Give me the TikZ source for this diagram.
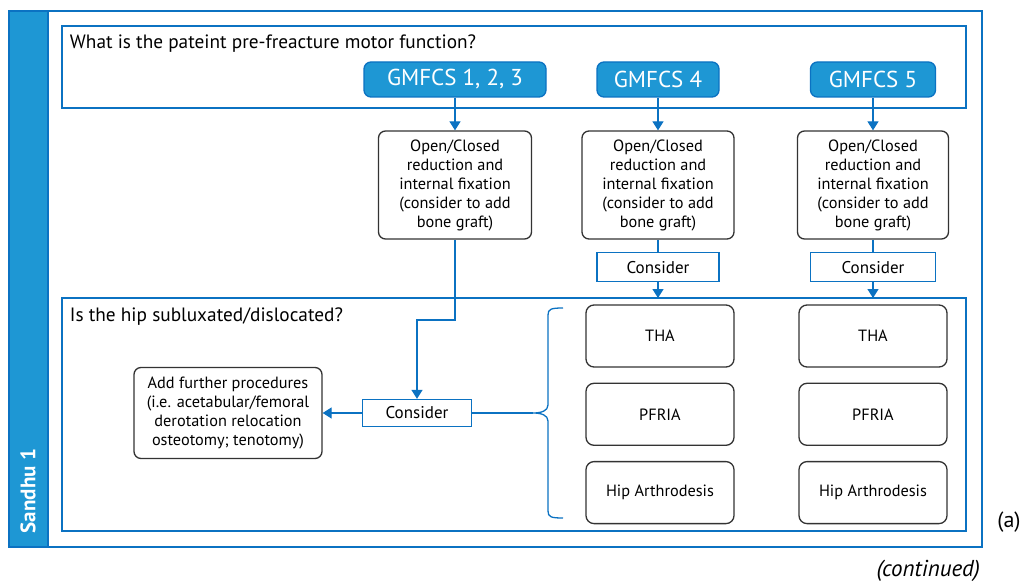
\documentclass[tikz,border=0pt]{standalone}
\usepackage{fontspec}
\setmainfont{PT Sans}
\usepackage{tikz}
\usetikzlibrary{arrows.meta,calc}
\usetikzlibrary{positioning}
\definecolor{sandhuFill}{HTML}{1E97D4}
\definecolor{sandhuLine}{HTML}{0B72C2}
\definecolor{boxLine}{HTML}{333333}
\tikzstyle{gmnode} = [fill=sandhuFill,draw=sandhuLine,rounded corners=7pt,text=white,minimum height=35pt,inner sep=0pt,font=\fontsize{23}{26}\selectfont]
\tikzstyle{opnode} = [draw=boxLine,rounded corners=7pt,align=center,minimum height=108pt,inner sep=0pt,font=\fontsize{16.3}{19}\selectfont]
\tikzstyle{cnode} = [draw=sandhuLine,minimum height=29pt,inner sep=0pt,font=\fontsize{17}{19}\selectfont]
\tikzstyle{trnode} = [draw=boxLine,rounded corners=8pt,minimum width=148pt,minimum height=62pt,inner sep=0pt,font=\fontsize{16.3}{19}\selectfont]
\tikzstyle{frame} = [draw=sandhuLine]

\begin{document}
\begin{tikzpicture}[x=1pt,y=-1pt,node distance=12.5pt]
%
\tikzset{every path/.style={line width=1.3pt},>={Triangle[width=11pt,length=9pt]}}
\useasboundingbox (0,0) rectangle (1021,583);

\draw [frame,fill=sandhuFill] (9,11) rectangle (48,547);
\draw [frame] (9,11) rectangle (982,547);
\draw [frame] (62,26) rectangle (966,108);
\draw [frame] (62,298) rectangle (966,531);

\node (askfn) [anchor=west,font=\fontsize{19.3}{22}\selectfont] at (66,44) {What is the pateint pre-freacture motor function?};
\node (askhip) [anchor=west,font=\fontsize{19.3}{22}\selectfont] at (66,317) {Is the hip subluxated/dislocated?};
\node (side) [rotate=90,text=white,font=\bfseries\fontsize{21}{24}\selectfont] at (28,491) {Sandhu 1};

\node (gm1) [gmnode,minimum width=182pt] at (455,79.5) {GMFCS 1, 2, 3};
\node (gm4) [gmnode,minimum width=122pt] at (658,79.5) {GMFCS 4};
\node (gm5) [gmnode,minimum width=125pt] at (873,79.5) {GMFCS 5};

\node (oc1) [opnode,minimum width=153pt] at (455,185) {Open/Closed\\reduction and\\internal fixation\\(consider to add\\bone graft)};
\node (oc4) [opnode,minimum width=152pt] at (658,185) {Open/Closed\\reduction and\\internal fixation\\(consider to add\\bone graft)};
\node (oc5) [opnode,minimum width=151pt] at (873,185) {Open/Closed\\reduction and\\internal fixation\\(consider to add\\bone graft)};
\node (co4) [cnode,minimum width=122pt,below=of oc4] {Consider};
\node (co5) [cnode,minimum width=125pt,below=of oc5] {Consider};

\node (tha4) [trnode] at (660,336) {THA};
\node (pf4) [trnode,below=15pt of tha4] {PFRIA};
\node (ar4) [trnode,below=15pt of pf4] {Hip Arthrodesis};
\node (tha5) [trnode] at (873,336) {THA};
\node (pf5) [trnode,below=15pt of tha5] {PFRIA};
\node (ar5) [trnode,below=15pt of pf5] {Hip Arthrodesis};

\node (cob) [cnode,minimum width=109pt,minimum height=27pt] at (417,413) {Consider};
\node (add) [opnode,minimum width=188pt,minimum height=91pt] at (228,413) {Add further procedures\\(i.e. acetabular/femoral\\derotation relocation\\osteotomy; tenotomy)};

\node (sub) [font=\fontsize{22}{24}\selectfont] at (1009,522) {(a)};
\node (cont) [anchor=east,font=\itshape\fontsize{23}{26}\selectfont] at (984,571) {(continued)};

\coordinate (in4) at (co4.south |- 0,298);
\coordinate (in5) at (co5.south |- 0,298);
\coordinate (bend) at (oc1.south |- 0,320);
\coordinate (tip) at (533,413);

%
\draw [->,sandhuLine] (gm1) to (oc1);
\draw [->,sandhuLine] (gm4) to (oc4);
\draw [->,sandhuLine] (gm5) to (oc5);
\draw [sandhuLine] (oc4) to (co4);
\draw [sandhuLine] (oc5) to (co5);
\draw [->,sandhuLine] (co4) to (in4);
\draw [->,sandhuLine] (co5) to (in5);
\draw [->,sandhuLine] (oc1) -- (bend) -| (cob);
\draw [->,sandhuLine] (cob) to (add);
\draw [sandhuLine] (cob) to (tip);
\draw [sandhuLine] (563,308) .. controls (551,308) and (548,309) .. (548,315) -- (548,405) .. controls (548,411) and (541,413) .. (tip) .. controls (541,413) and (548,415) .. (548,421) -- (548,511) .. controls (548,517) and (551,518) .. (563,518);
\end{tikzpicture}
\end{document}
